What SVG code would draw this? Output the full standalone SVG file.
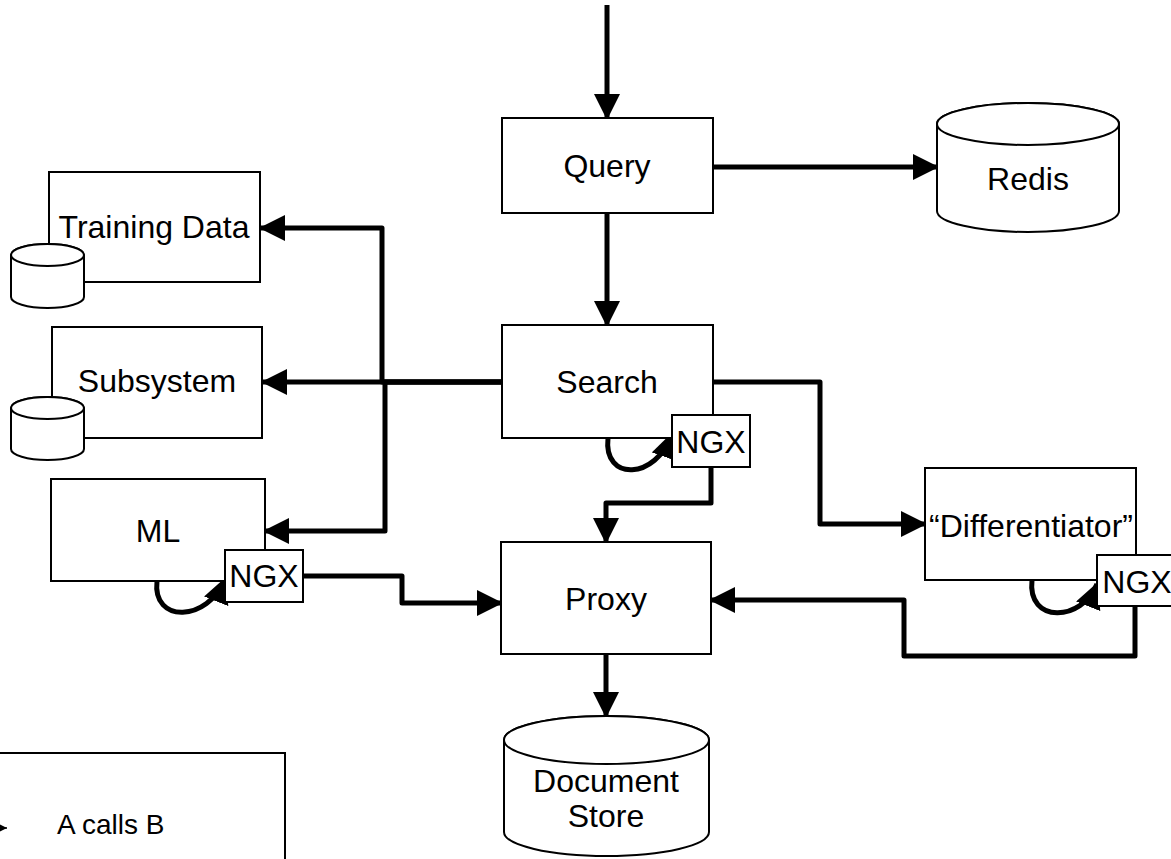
<svg xmlns="http://www.w3.org/2000/svg" width="1171" height="859" viewBox="0 0 1171 859">
  <style>
    .box { fill: #fff; stroke: #000; stroke-width: 2; }
    .db { fill: #fff; stroke: #000; stroke-width: 2; }
    .lbl { font-family: "Liberation Sans", Arial, sans-serif; font-size: 32px; fill: #000; text-anchor: middle; }
    .small { font-family: "Liberation Sans", Arial, sans-serif; font-size: 28px; fill: #000; }
    .wire { fill: none; stroke: #000; stroke-width: 5; stroke-linejoin: round; marker-end: url(#head); }
  </style>
  <defs>
    <marker id="head" markerUnits="userSpaceOnUse" markerWidth="26" markerHeight="26" viewBox="0 0 26 26" refX="24" refY="13" orient="auto">
      <path d="M0,0 L26,13 L0,26 Z" fill="#000"/>
    </marker>
    <marker id="headSmall" markerUnits="userSpaceOnUse" markerWidth="8" markerHeight="8" viewBox="0 0 8 8" refX="8" refY="4" orient="auto">
      <path d="M0,0 L8,4 L0,8 Z" fill="#000"/>
    </marker>
  </defs>

  <!-- connectors -->
  <g id="connectors">
    <path class="wire" d="M607 5 V118"/>
    <path class="wire" d="M713 167 H937"/>
    <path class="wire" d="M607 213 V325"/>
    <path class="wire" d="M502 382 H382 V228 H261"/>
    <path class="wire" d="M502 382 H263"/>
    <path class="wire" d="M502 382 H385 V531 H265"/>
    <path class="wire" d="M713 382 H820 V524 H925"/>
    <path class="wire" d="M711 467 V503 H606 V542"/>
    <path class="wire" d="M303 576 H402 V603 H501"/>
    <path class="wire" d="M1135 606 V656 H904 V600 H711"/>
    <path class="wire" d="M606 654 V716"/>
    <!-- self-calls into each NGX sidecar -->
    <path class="wire" d="M608 438 C 603 482, 656 480, 672 434"/>
    <path class="wire" d="M157 581 C 152 624, 208 622, 225 579"/>
    <path class="wire" d="M1032 580 C 1027 624, 1082 622, 1097 584"/>
  </g>

  <g id="query">
    <rect class="box" x="502" y="118" width="211" height="95"/>
    <text class="lbl" x="607" y="177">Query</text>
  </g>

  <g id="redis">
    <path class="db" d="M937 124 V211 A91 21 0 0 0 1119 211 V124 A91 21 0 0 0 937 124 Z"/>
    <ellipse class="db" cx="1028" cy="124" rx="91" ry="21"/>
    <text class="lbl" x="1028" y="190">Redis</text>
  </g>

  <g id="search">
    <rect class="box" x="502" y="325" width="211" height="113"/>
    <text class="lbl" x="607" y="393">Search</text>
  </g>

  <g id="search-ngx">
    <rect class="box" x="672" y="415" width="78" height="52"/>
    <text class="lbl" x="711" y="453">NGX</text>
  </g>

  <g id="training-data">
    <rect class="box" x="49" y="172" width="211" height="110"/>
    <text class="lbl" x="154" y="238">Training Data</text>
    <path class="db" d="M11 255 V297 A36.5 11 0 0 0 84 297 V255 A36.5 11 0 0 0 11 255 Z"/>
    <ellipse class="db" cx="47.5" cy="255" rx="36.5" ry="11"/>
  </g>

  <g id="subsystem">
    <rect class="box" x="52" y="327" width="210" height="111"/>
    <text class="lbl" x="157" y="392">Subsystem</text>
    <path class="db" d="M11 408 V449 A36.5 11 0 0 0 84 449 V408 A36.5 11 0 0 0 11 408 Z"/>
    <ellipse class="db" cx="47.5" cy="408" rx="36.5" ry="11"/>
  </g>

  <g id="ml">
    <rect class="box" x="51" y="479" width="214" height="102"/>
    <text class="lbl" x="158" y="542">ML</text>
  </g>

  <g id="ml-ngx">
    <rect class="box" x="225" y="550" width="78" height="52"/>
    <text class="lbl" x="264" y="587">NGX</text>
  </g>

  <g id="differentiator">
    <rect class="box" x="925" y="468" width="211" height="112"/>
    <text class="lbl" x="1031" y="537">“Differentiator”</text>
  </g>

  <g id="differentiator-ngx">
    <rect class="box" x="1097" y="555" width="78" height="51"/>
    <text class="lbl" x="1137" y="593">NGX</text>
  </g>

  <g id="proxy">
    <rect class="box" x="501" y="542" width="210" height="112"/>
    <text class="lbl" x="606" y="610">Proxy</text>
  </g>

  <g id="document-store">
    <path class="db" d="M504 740 V832 A102.5 24 0 0 0 709 832 V740 A102.5 24 0 0 0 504 740 Z"/>
    <ellipse class="db" cx="606.5" cy="740" rx="102.5" ry="24"/>
    <text class="lbl" x="606" y="792">Document</text>
    <text class="lbl" x="606" y="827">Store</text>
  </g>

  <g id="legend">
    <rect class="box" x="-5" y="753" width="290" height="120"/>
    <path d="M-30 828 H7" fill="none" stroke="#000" stroke-width="1.5" marker-end="url(#headSmall)"/>
    <text class="small" x="57" y="834">A calls B</text>
  </g>
</svg>
